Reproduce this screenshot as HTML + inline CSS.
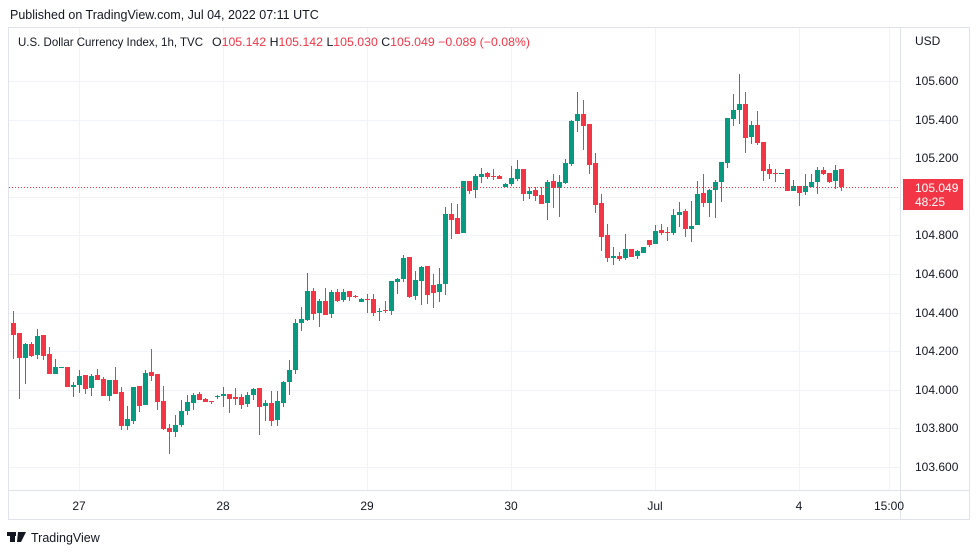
<!DOCTYPE html>
<html><head><meta charset="utf-8"><style>
body{margin:0;background:#fff;width:979px;height:555px;overflow:hidden;font-family:"Liberation Sans",sans-serif}
</style></head><body>
<svg id="s" width="979" height="555" xmlns="http://www.w3.org/2000/svg" font-family="Liberation Sans, sans-serif">
<rect x="0" y="0" width="979" height="555" fill="#fff"/>
<text x="10" y="19" font-size="12.5" fill="#131722">Published on TradingView.com, Jul 04, 2022 07:11 UTC</text>
<rect x="8.5" y="27.5" width="961" height="492" fill="none" stroke="#e0e3eb"/>
<line x1="900.5" y1="28" x2="900.5" y2="519" stroke="#e0e3eb"/>
<line x1="9" y1="490.5" x2="969" y2="490.5" stroke="#e0e3eb"/>
<g id="grid" stroke="#f0f3fa" stroke-width="1"></g>
<g id="c"></g>
<line x1="9" y1="187.5" x2="900" y2="187.5" stroke="#f23645" stroke-dasharray="1,2"/>
<text x="18" y="46" font-size="12" fill="#131722" textLength="185" lengthAdjust="spacingAndGlyphs">U.S. Dollar Currency Index, 1h, TVC</text>
<text x="212" y="46" font-size="12" fill="#131722" textLength="318" lengthAdjust="spacingAndGlyphs">O<tspan fill="#f23645">105.142</tspan>  H<tspan fill="#f23645">105.142</tspan>  L<tspan fill="#f23645">105.030</tspan>  C<tspan fill="#f23645">105.049</tspan>  <tspan fill="#f23645">−0.089 (−0.08%)</tspan></text>
<text x="915" y="45" font-size="12" fill="#131722">USD</text>
<g id="pl" font-size="12" fill="#131722"></g>
<rect x="903" y="179" width="60" height="31" fill="#f23645"/>
<text x="915" y="192" font-size="12" fill="#fff">105.049</text>
<text x="915" y="206" font-size="12" fill="#fff">48:25</text>
<g font-size="12" fill="#131722" text-anchor="middle">
<text x="79" y="510">27</text><text x="223" y="510">28</text><text x="367" y="510">29</text><text x="511" y="510">30</text><text x="655" y="510">Jul</text><text x="799" y="510">4</text><text x="889" y="510">15:00</text>
</g>
<rect x="10" y="532" width="5" height="10" fill="#131722"/><rect x="7" y="532" width="9" height="4" fill="#131722"/><polygon points="18,532 26,532 21,542 17,542" fill="#131722"/>
<text x="31" y="542" font-size="12.5" fill="#131722">TradingView</text>
</svg>
<script>
var ns="http://www.w3.org/2000/svg";
function el(p,t,a){var e=document.createElementNS(ns,t);for(var k in a)e.setAttribute(k,a[k]);p.appendChild(e);return e;}
var g=document.getElementById('grid');
[79,223,367,511,655,799,889].forEach(function(x){el(g,'line',{x1:x+.5,y1:28,x2:x+.5,y2:490});});
var pl=document.getElementById('pl');
for(var k=0;k<11;k++){var y=Math.round(81+k*38.6);el(g,'line',{x1:9,y1:y+.5,x2:900,y2:y+.5});
 var t=el(pl,'text',{x:915,y:y+4});t.textContent=(105.6-k*0.2).toFixed(3);}
var d=[[323,335,311,359],[333,358,333,399],[358,344,343,384],[344,356,342,357],[355,336,329,359],[335,356,335,360],[354,374,347,374],[374,367,359,374],[367,367,367,367],[367,387,367,387],
[387,385,382,397],[385,376,370,393],[375,389,375,394],[388,376,374,396],[375,380,369,380],[379,396,377,396],[396,380,380,401],[380,394,367,394],[392,426,387,430],[426,419,406,430],
[421,387,387,424],[386,406,386,412],[405,373,370,405],[372,376,349,381],[374,402,374,410],[401,429,386,430],[428,432,424,454],[432,425,415,437],[425,411,400,427],[411,402,395,415],
[403,395,393,410],[394,400,392,400],[399,402,398,402],[401,402,401,404],[397,396,395,399],[396,394,387,407],[394,399,394,413],[397,399,388,405],[397,405,394,409],[404,395,392,407],
[395,389,388,400],[388,407,388,435],[406,403,400,421],[403,421,391,426],[420,401,391,426],[403,382,381,407],[382,370,360,395],[370,323,319,374],[323,319,307,331],[320,291,273,321],
[291,314,288,320],[313,301,299,327],[301,315,288,315],[314,292,290,318],[292,301,289,302],[300,292,289,302],[291,297,291,301],[296,297,295,298],[302,299,298,302],[299,300,294,313],
[299,313,294,316],[312,311,308,321],[310,311,301,313],[311,281,281,315],[282,279,278,294],[279,258,255,282],[257,297,257,298],[296,280,271,300],[281,267,266,305],[266,295,266,304],
[285,293,274,308],[292,284,268,302],[284,214,207,295],[214,220,203,239],[218,234,204,234],[233,181,181,233],[181,191,181,194],[190,176,174,198],[177,174,168,183],[173,177,172,179],
[176,177,169,180],[176,179,175,179],[187,184,183,187],[184,178,166,186],[179,169,160,181],[169,194,169,201],[194,191,187,199],[190,196,187,201],[195,204,187,204],[203,182,180,220],
[181,188,174,208],[188,182,175,217],[183,163,159,184],[164,121,120,166],[121,114,92,132],[114,126,100,150],[124,165,124,174],[163,205,153,213],[203,237,194,251],[235,258,224,262],
[258,256,247,265],[256,259,252,261],[258,249,234,260],[249,257,249,257],[256,251,250,259],[253,247,247,253],[240,245,240,247],[244,231,225,244],[230,233,224,235],[232,233,227,241],
[233,215,209,235],[215,212,202,227],[211,229,209,237],[229,226,201,242],[225,194,181,225],[193,203,174,207],[203,190,189,217],[190,182,180,218],[182,162,162,202],[163,118,118,168],
[119,110,94,126],[110,104,74,124],[104,138,92,153],[137,125,121,144],[125,143,111,145],[142,171,142,181],[169,174,164,179],[173,174,169,182],[173,173,173,173],[169,191,169,191],
[191,186,180,191],[186,193,186,206],[192,186,174,195],[187,182,174,187],[182,170,167,194],[170,174,167,175],[173,182,173,183],[181,170,165,189],[169,187,169,191]];
var c=document.getElementById('c');
d.forEach(function(a,i){var x=13+i*6;var col=(a[1]<=a[0])?'#089981':'#f23645';
 el(c,'rect',{x:x,y:a[2],width:1,height:Math.max(1,a[3]-a[2]),fill:col});
 var t=Math.min(a[0],a[1]),h=Math.max(1,Math.abs(a[0]-a[1]));
 el(c,'rect',{x:x-2,y:t,width:5,height:h,fill:col});});
</script>
</body></html>
